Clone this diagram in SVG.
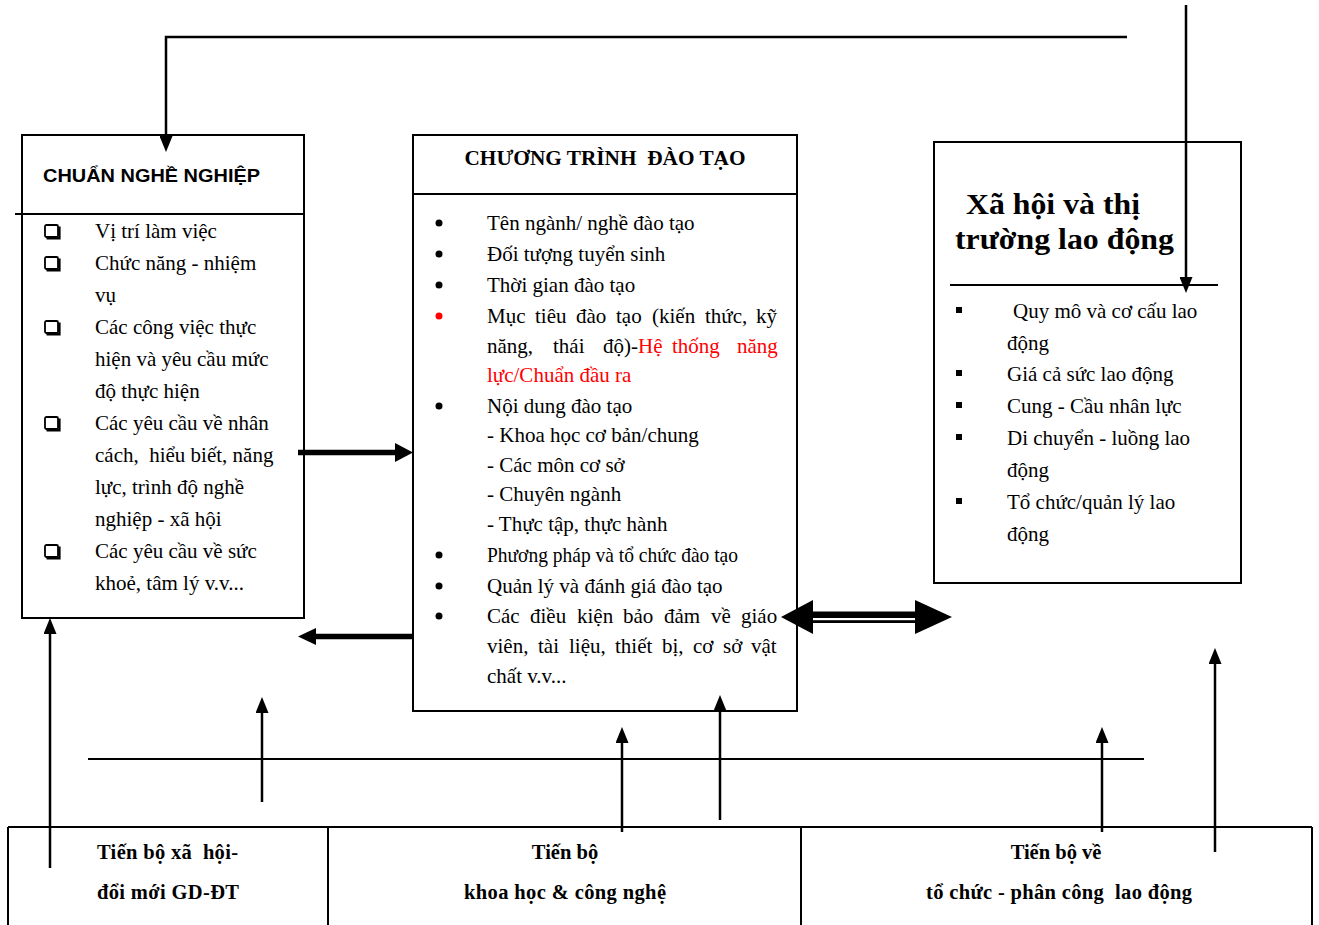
<svg xmlns="http://www.w3.org/2000/svg" xmlns:xlink="http://www.w3.org/1999/xlink" width="1319" height="925" viewBox="0 0 1319 925">
<style>
text { white-space: pre; fill: #000; }
.body { font-family: "Liberation Serif", "Times New Roman", serif; font-size: 21px; }
.red { fill: #ff0000; }
.ttl { font-family: "Liberation Serif", "Times New Roman", serif; font-weight: bold; }
.sans { font-family: "Liberation Sans", Arial, sans-serif; font-weight: bold; font-size: 19px; }
.box { fill: none; stroke: #000; stroke-width: 2; }
.ln { fill: none; stroke: #000; stroke-width: 2; }
.conn { fill: none; stroke: #000; stroke-width: 2.5; marker-end: url(#ah); }
.bottom { font-family: "Liberation Serif", "Times New Roman", serif; font-weight: bold; font-size: 20.5px; text-anchor: middle; }
.bottom.left { text-anchor: start; }
</style>
<defs>
<marker id="ah" markerUnits="userSpaceOnUse" viewBox="0 0 16 13" refX="0" refY="6.5" markerWidth="16" markerHeight="13" orient="auto">
<path d="M0,0 L16,6.5 L0,13 Z" fill="#000"/>
</marker>
<g id="chk">
<rect x="0" y="0" width="13" height="12" rx="1.5" fill="none" stroke="#000" stroke-width="1.8"/>
<path d="M1.5,13.4 H14.4 V1.5" fill="none" stroke="#000" stroke-width="2.4"/>
</g>
<rect id="sq" width="6" height="6" fill="#000"/>
</defs>
<rect width="1319" height="925" fill="#fff"/>

<g id="chuan-nghe-nghiep">
<rect class="box" x="22" y="135" width="282" height="483"/>
<line class="ln" x1="15" y1="214" x2="304" y2="214"/>
<text class="sans" x="43" y="182" textLength="217" lengthAdjust="spacingAndGlyphs">CHUẨN NGHỀ NGHIỆP</text>
<use xlink:href="#chk" x="45" y="225"/>
<use xlink:href="#chk" x="45" y="257"/>
<use xlink:href="#chk" x="45" y="321"/>
<use xlink:href="#chk" x="45" y="417"/>
<use xlink:href="#chk" x="45" y="545"/>
<text class="body" x="95" y="238">Vị trí làm việc</text>
<text class="body" x="95" y="270">Chức năng - nhiệm</text>
<text class="body" x="95" y="302">vụ</text>
<text class="body" x="95" y="334">Các công việc thực</text>
<text class="body" x="95" y="366">hiện và yêu cầu mức</text>
<text class="body" x="95" y="398">độ thực hiện</text>
<text class="body" x="95" y="430">Các yêu cầu về nhân</text>
<text class="body" x="95" y="462">cách,  hiểu biết, năng</text>
<text class="body" x="95" y="494">lực, trình độ nghề</text>
<text class="body" x="95" y="526">nghiệp - xã hội</text>
<text class="body" x="95" y="558">Các yêu cầu về sức</text>
<text class="body" x="95" y="590">khoẻ, tâm lý v.v...</text>
</g>

<g id="chuong-trinh-dao-tao">
<rect class="box" x="413" y="135" width="384" height="576"/>
<line class="ln" x1="413" y1="194" x2="797" y2="194"/>
<text class="ttl" x="605" y="165" font-size="20" text-anchor="middle" textLength="281" lengthAdjust="spacingAndGlyphs">CHƯƠNG TRÌNH  ĐÀO TẠO</text>
<circle cx="439" cy="223" r="3.5"/>
<circle cx="439" cy="254" r="3.5"/>
<circle cx="439" cy="285" r="3.5"/>
<circle cx="439" cy="316" r="3.5" fill="#ff0000"/>
<circle cx="439" cy="406" r="3.5"/>
<circle cx="439" cy="555" r="3.5"/>
<circle cx="439" cy="586" r="3.5"/>
<circle cx="439" cy="616" r="3.5"/>
<text class="body" x="487" y="230">Tên ngành/ nghề đào tạo</text>
<text class="body" x="487" y="261">Đối tượng tuyển sinh</text>
<text class="body" x="487" y="292">Thời gian đào tạo</text>
<text class="body" y="323"><tspan x="487">Mục</tspan><tspan x="535">tiêu</tspan><tspan x="576">đào</tspan><tspan x="616">tạo</tspan><tspan x="652">(kiến</tspan><tspan x="705">thức,</tspan><tspan x="756">kỹ</tspan></text>
<text class="body" y="353"><tspan x="487">năng,</tspan><tspan x="553">thái</tspan><tspan x="603">độ)-</tspan><tspan class="red">Hệ</tspan><tspan class="red" x="672">thống</tspan><tspan class="red" x="737">năng</tspan></text>
<text class="body red" x="487" y="382">lực/Chuẩn đầu ra</text>
<text class="body" x="487" y="413">Nội dung đào tạo</text>
<text class="body" x="487" y="442">- Khoa học cơ bản/chung</text>
<text class="body" x="487" y="472">- Các môn cơ sở</text>
<text class="body" x="487" y="501">- Chuyên ngành</text>
<text class="body" x="487" y="531">- Thực tập, thực hành</text>
<text class="body" x="487" y="562" textLength="251" lengthAdjust="spacingAndGlyphs">Phương pháp và tổ chức đào tạo</text>
<text class="body" x="487" y="593">Quản lý và đánh giá đào tạo</text>
<text class="body" y="623"><tspan x="487">Các</tspan><tspan x="530">điều</tspan><tspan x="577">kiện</tspan><tspan x="623">bảo</tspan><tspan x="664">đảm</tspan><tspan x="711">về</tspan><tspan x="741">giáo</tspan></text>
<text class="body" y="653"><tspan x="487">viên,</tspan><tspan x="538">tài</tspan><tspan x="569">liệu,</tspan><tspan x="615">thiết</tspan><tspan x="662">bị,</tspan><tspan x="693">cơ</tspan><tspan x="723">sở</tspan><tspan x="751">vật</tspan></text>
<text class="body" x="487" y="683">chất v.v...</text>
</g>

<g id="xa-hoi-thi-truong">
<rect class="box" x="934" y="142" width="307" height="441"/>
<line class="ln" x1="950" y1="285" x2="1218" y2="285"/>
<text class="ttl" x="966" y="214" font-size="29" textLength="174" lengthAdjust="spacingAndGlyphs">Xã hội và thị</text>
<text class="ttl" x="955" y="249" font-size="29" textLength="219" lengthAdjust="spacingAndGlyphs">trường lao động</text>
<use xlink:href="#sq" x="956" y="307"/>
<use xlink:href="#sq" x="956" y="370"/>
<use xlink:href="#sq" x="956" y="402"/>
<use xlink:href="#sq" x="956" y="434"/>
<use xlink:href="#sq" x="956" y="498"/>
<text class="body" x="1013" y="318">Quy mô và cơ cấu lao</text>
<text class="body" x="1007" y="350">động</text>
<text class="body" x="1007" y="381">Giá cả sức lao động</text>
<text class="body" x="1007" y="413">Cung - Cầu nhân lực</text>
<text class="body" x="1007" y="445">Di chuyển - luồng lao</text>
<text class="body" x="1007" y="477">động</text>
<text class="body" x="1007" y="509">Tổ chức/quản lý lao</text>
<text class="body" x="1007" y="541">động</text>
</g>

<g id="tien-bo">
<line class="ln" x1="8" y1="827" x2="1312" y2="827"/>
<line class="ln" x1="8" y1="827" x2="8" y2="925"/>
<line class="ln" x1="328" y1="827" x2="328" y2="925"/>
<line class="ln" x1="801" y1="827" x2="801" y2="925"/>
<line class="ln" x1="1312" y1="827" x2="1312" y2="925"/>
<text class="bottom left" x="97" y="859" textLength="141">Tiến bộ xã  hội-</text>
<text class="bottom left" x="97" y="899" textLength="142">đổi mới GD-ĐT</text>
<text class="bottom" x="565" y="859">Tiến bộ</text>
<text class="bottom" x="565" y="899" textLength="202">khoa học &amp; công nghệ</text>
<text class="bottom" x="1056" y="859">Tiến bộ về</text>
<text class="bottom" x="1059" y="899" textLength="266">tổ chức - phân công  lao động</text>
</g>

<g id="connectors">
<path class="conn" stroke-width="2" d="M1127,37 H166 V136"/>
<path class="conn" d="M1186,5 V277"/>
<line class="ln" x1="88" y1="759" x2="1144" y2="759"/>
<path class="conn" d="M50,868 V634"/>
<path class="conn" d="M262,802 V713"/>
<path class="conn" d="M622,832 V743"/>
<path class="conn" d="M720,820 V711"/>
<path class="conn" d="M1102,832 V743"/>
<path class="conn" d="M1215,852 V664"/>
<line x1="298" y1="452.5" x2="397" y2="452.5" stroke="#000" stroke-width="5.5"/>
<polygon points="395,443 413,452.5 395,462"/>
<line x1="313" y1="636.5" x2="413" y2="636.5" stroke="#000" stroke-width="5.5"/>
<polygon points="316,628 298,636.5 316,645"/>
<rect x="811" y="611.5" width="106" height="11.5" fill="#000"/>
<rect x="811" y="618" width="106" height="2.2" fill="#fff"/>
<polygon points="813,600 781,617 813,634"/>
<polygon points="915,600 952,617 915,634"/>
</g>
</svg>
